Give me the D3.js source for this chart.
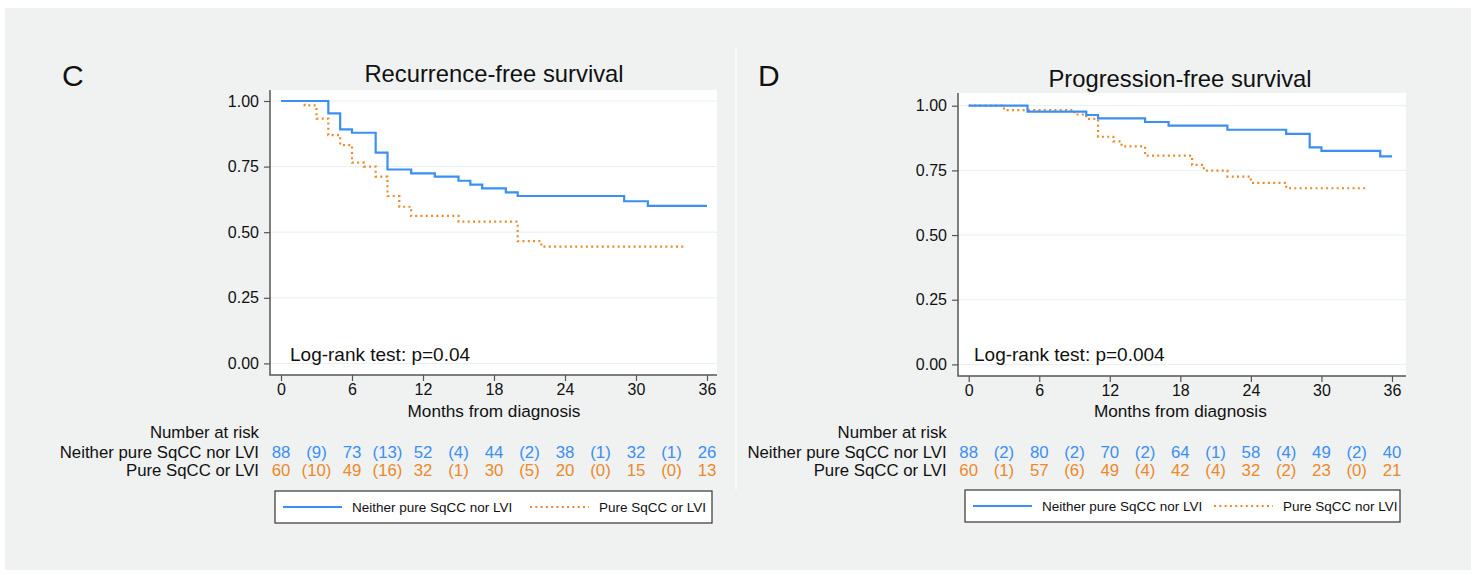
<!DOCTYPE html>
<html>
<head>
<meta charset="utf-8">
<script src="https://cdn.jsdelivr.net/npm/d3@7"></script>
<style>
  html, body { margin: 0; padding: 0; background: #ffffff; }
  svg { display: block; font-family: "Liberation Sans", Arial, Helvetica, sans-serif; }
</style>
</head>
<body>
<div id="chart"></div>
<script>
// ---- data ----
const months = [0, 3, 6, 9, 12, 15, 18, 21, 24, 27, 30, 33, 36];
const xTicks = [0, 6, 12, 18, 24, 30, 36];
const yTicks = [0, 0.25, 0.5, 0.75, 1];

// C: recurrence-free survival
const rfsNeitherTime = [0, 4, 5, 6, 8, 9, 11, 13, 15, 16, 17, 19, 20, 29, 31, 36];
const rfsNeitherSurv = [1, 0.953, 0.892, 0.879, 0.803, 0.739, 0.724, 0.712, 0.696, 0.681, 0.667, 0.652, 0.638, 0.618, 0.600, 0.600];
const rfsPureTime = [0, 2, 3, 4, 5, 6, 7, 8, 9, 10, 11, 15, 20, 22, 34];
const rfsPureSurv = [1, 0.983, 0.933, 0.870, 0.832, 0.765, 0.750, 0.712, 0.638, 0.597, 0.562, 0.540, 0.466, 0.445, 0.445];
const rfsRiskNeither = ["88", "(9)", "73", "(13)", "52", "(4)", "44", "(2)", "38", "(1)", "32", "(1)", "26"];
const rfsRiskPure = ["60", "(10)", "49", "(16)", "32", "(1)", "30", "(5)", "20", "(0)", "15", "(0)", "13"];

// D: progression-free survival
const pfsNeitherTime = [0, 5, 10, 11, 15, 17, 22, 27, 29, 30, 35, 36];
const pfsNeitherSurv = [1, 0.977, 0.964, 0.951, 0.937, 0.923, 0.907, 0.891, 0.839, 0.825, 0.804, 0.804];
const pfsPureTime = [0, 3, 9, 10, 11, 12.3, 13, 15, 19, 20, 22, 24, 27, 34];
const pfsPureSurv = [1, 0.983, 0.966, 0.949, 0.880, 0.862, 0.843, 0.807, 0.771, 0.749, 0.726, 0.702, 0.681, 0.681];
const pfsRiskNeither = ["88", "(2)", "80", "(2)", "70", "(2)", "64", "(1)", "58", "(4)", "49", "(2)", "40"];
const pfsRiskPure = ["60", "(1)", "57", "(6)", "49", "(4)", "42", "(4)", "32", "(2)", "23", "(0)", "21"];

const rowLabels = ["Neither pure SqCC nor LVI", "Pure SqCC or LVI"];
const legendLabelsC = ["Neither pure SqCC nor LVI", "Pure SqCC or LVI"];
const legendLabelsD = ["Neither pure SqCC nor LVI", "Pure SqCC nor LVI"];

const blue = "#3b8ff3";
const orange = "#ea8a2b";
const ink = "#111";
const axisColor = "#555";

const width = 1476, height = 575;

const svg = d3.select("#chart").append("svg")
  .attr("width", width)
  .attr("height", height);

// grey page background + faint divider between panels
svg.append("rect")
  .attr("x", 5).attr("y", 8)
  .attr("width", 1466).attr("height", 562)
  .attr("fill", "#f0f1f1");
svg.append("line")
  .attr("x1", 736).attr("x2", 736)
  .attr("y1", 47).attr("y2", 490)
  .attr("stroke", "#fafafa")
  .attr("stroke-width", 1.5);

const zip = (t, s) => t.map((d, i) => ({ t: d, s: s[i] }));

const panels = [
  {
    letter: "C", letterX: 62, letterY: 86,
    title: "Recurrence-free survival", titleX: 494, titleY: 82,
    box: { x0: 270, x1: 717, y0: 90, y1: 375 },
    xRange: [281, 707], yRange: [363.4, 101],
    logrank: "Log-rank test: p=0.04", lrX: 290, lrY: 361,
    curves: [zip(rfsNeitherTime, rfsNeitherSurv), zip(rfsPureTime, rfsPureSurv)],
    risk: [rfsRiskNeither, rfsRiskPure],
    legend: legendLabelsC,
    legendBox: { x0: 275, x1: 712, y0: 491, y1: 523 },
    legendSecond: 255
  },
  {
    letter: "D", letterX: 758, letterY: 86,
    title: "Progression-free survival", titleX: 1180, titleY: 87,
    box: { x0: 958, x1: 1406, y0: 93, y1: 376 },
    xRange: [968.7, 1392], yRange: [364.4, 105.7],
    logrank: "Log-rank test: p=0.004", lrX: 974, lrY: 361,
    curves: [zip(pfsNeitherTime, pfsNeitherSurv), zip(pfsPureTime, pfsPureSurv)],
    risk: [pfsRiskNeither, pfsRiskPure],
    legend: legendLabelsD,
    legendBox: { x0: 965, x1: 1400, y0: 490, y1: 522 },
    legendSecond: 249
  }
];

panels.forEach(drawPanel);

function drawPanel(p) {
  const g = svg.append("g");
  const x = d3.scaleLinear().domain([0, 36]).range(p.xRange);
  const y = d3.scaleLinear().domain([0, 1]).range(p.yRange);
  const b = p.box;

  g.append("text")
    .attr("x", p.letterX).attr("y", p.letterY)
    .attr("font-size", 30).attr("fill", ink)
    .text(p.letter);

  g.append("text")
    .attr("x", p.titleX).attr("y", p.titleY)
    .attr("text-anchor", "middle")
    .attr("font-size", 23.8).attr("fill", ink)
    .text(p.title);

  // plot region
  g.append("rect")
    .attr("x", b.x0).attr("y", b.y0)
    .attr("width", b.x1 - b.x0).attr("height", b.y1 - b.y0)
    .attr("fill", "#ffffff");

  g.append("g")
    .selectAll("line")
    .data(yTicks)
    .join("line")
    .attr("x1", b.x0).attr("x2", b.x1)
    .attr("y1", d => y(d)).attr("y2", d => y(d))
    .attr("stroke", "#e6eff0")
    .attr("stroke-width", 1);

  // axes
  const yAxis = g.append("g")
    .attr("transform", `translate(${b.x0},0)`)
    .call(d3.axisLeft(y).tickValues(yTicks).tickFormat(d3.format(".2f")).tickSize(6).tickPadding(5));
  const xAxis = g.append("g")
    .attr("transform", `translate(0,${b.y1})`)
    .call(d3.axisBottom(x).tickValues(xTicks).tickSize(6).tickPadding(3));
  [yAxis, xAxis].forEach(a => {
    a.select(".domain").remove();
    a.selectAll(".tick line").attr("stroke", axisColor).attr("stroke-width", 1.2);
    a.selectAll(".tick text")
      .attr("fill", ink)
      .attr("font-size", 16)
      .attr("font-family", "\"Liberation Sans\", Arial, sans-serif");
  });

  g.append("path")
    .attr("d", `M${b.x0},${b.y0}V${b.y1}H${b.x1}`)
    .attr("fill", "none")
    .attr("stroke", axisColor)
    .attr("stroke-width", 1.5);

  g.append("text")
    .attr("x", (p.xRange[0] + p.xRange[1]) / 2).attr("y", 417)
    .attr("text-anchor", "middle")
    .attr("font-size", 17.2).attr("fill", ink)
    .text("Months from diagnosis");

  g.append("text")
    .attr("x", p.lrX).attr("y", p.lrY)
    .attr("font-size", 19).attr("fill", ink)
    .text(p.logrank);

  // survival curves
  const line = d3.line()
    .x(d => x(d.t))
    .y(d => y(d.s))
    .curve(d3.curveStepAfter);

  g.append("path")
    .datum(p.curves[1])
    .attr("d", line)
    .attr("fill", "none")
    .attr("stroke", orange)
    .attr("stroke-width", 2.2)
    .attr("stroke-dasharray", "2,3.3");

  g.append("path")
    .datum(p.curves[0])
    .attr("d", line)
    .attr("fill", "none")
    .attr("stroke", blue)
    .attr("stroke-width", 2.2);

  // number at risk table
  const labelX = p.xRange[0] - 22;
  g.append("text")
    .attr("x", labelX).attr("y", 438)
    .attr("text-anchor", "end")
    .attr("font-size", 16.8).attr("fill", ink)
    .text("Number at risk");

  const rowY = [458, 476];
  const rowColor = [blue, orange];
  p.risk.forEach((row, r) => {
    g.append("text")
      .attr("x", labelX).attr("y", rowY[r])
      .attr("text-anchor", "end")
      .attr("font-size", 16.8).attr("fill", ink)
      .text(rowLabels[r]);
    g.append("g")
      .selectAll("text")
      .data(row)
      .join("text")
      .attr("x", (d, i) => x(months[i]))
      .attr("y", rowY[r])
      .attr("text-anchor", "middle")
      .attr("font-size", 16.8)
      .attr("fill", rowColor[r])
      .text(d => d);
  });

  // legend
  const lb = p.legendBox;
  const ly = (lb.y0 + lb.y1) / 2;
  g.append("rect")
    .attr("x", lb.x0).attr("y", lb.y0)
    .attr("width", lb.x1 - lb.x0).attr("height", lb.y1 - lb.y0)
    .attr("fill", "#ffffff")
    .attr("stroke", "#444")
    .attr("stroke-width", 1.3);

  const items = [
    { dx: 8, color: blue, dash: null, label: p.legend[0] },
    { dx: p.legendSecond, color: orange, dash: "2,3.3", label: p.legend[1] }
  ];
  items.forEach(it => {
    g.append("line")
      .attr("x1", lb.x0 + it.dx).attr("x2", lb.x0 + it.dx + 59)
      .attr("y1", ly).attr("y2", ly)
      .attr("stroke", it.color)
      .attr("stroke-width", 2.2)
      .attr("stroke-dasharray", it.dash);
    g.append("text")
      .attr("x", lb.x0 + it.dx + 69).attr("y", ly + 4.8)
      .attr("font-size", 13.5).attr("fill", ink)
      .text(it.label);
  });
}
</script>
</body>
</html>
